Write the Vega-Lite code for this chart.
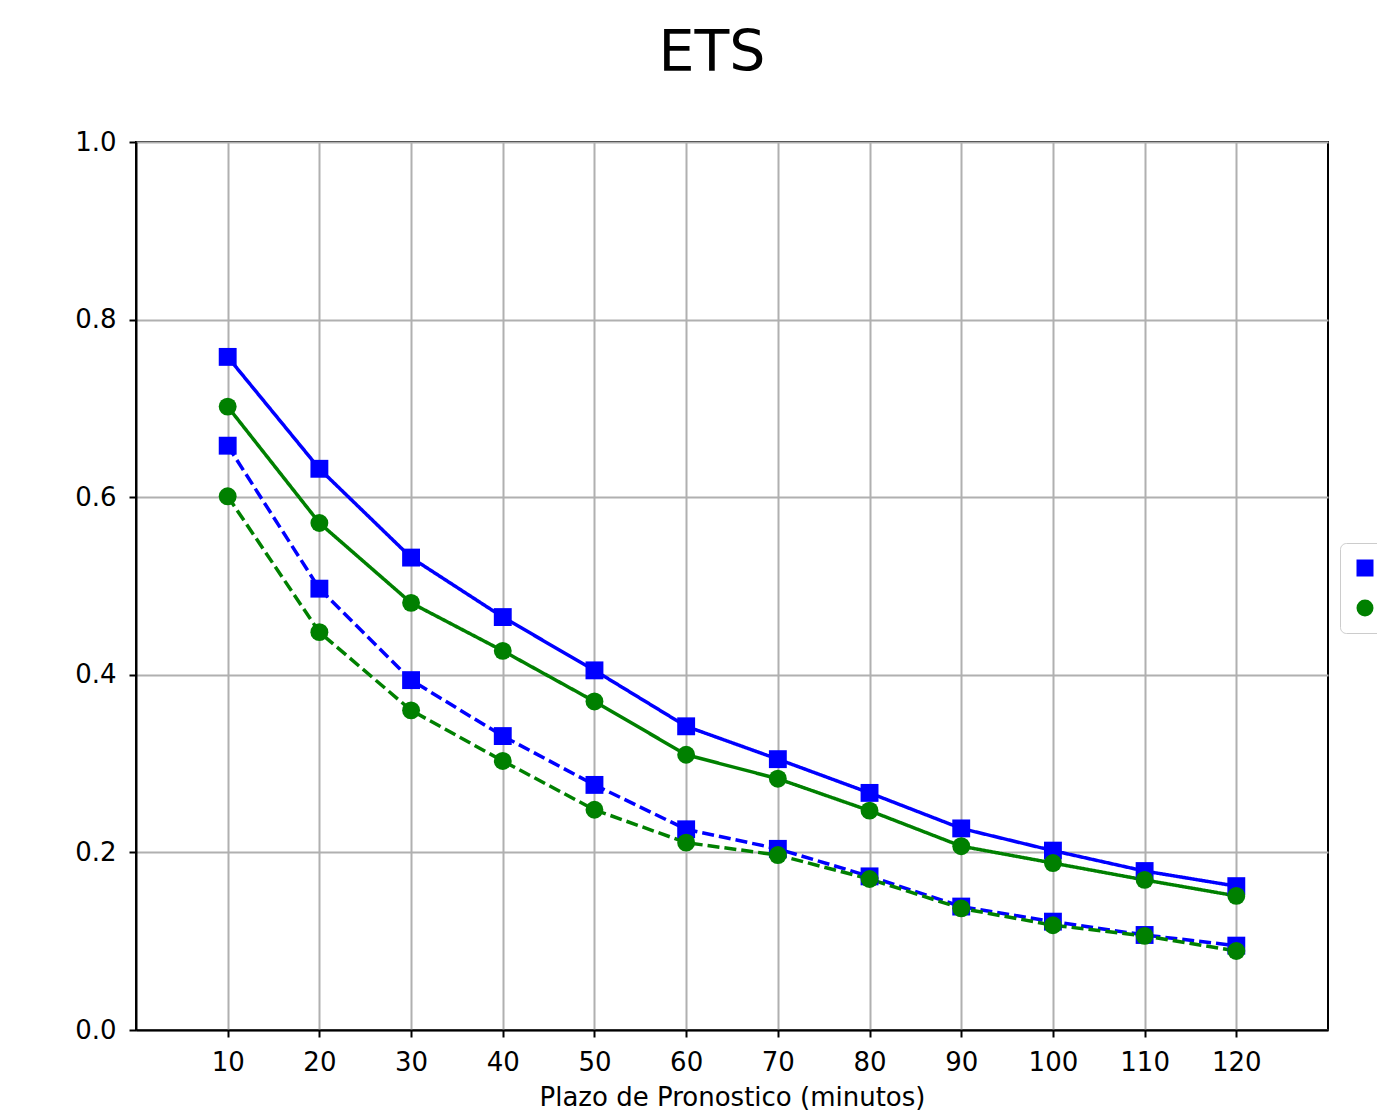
{
  "$schema": "https://vega.github.io/schema/vega-lite/v6.json",
  "width": 1192,
  "height": 888,
  "autosize": "none",
  "padding": {"left": 136, "top": 142, "right": 60, "bottom": 88},
  "background": "white",
  "config": {
    "font": "DejaVu Sans",
    "view": {"stroke": "black", "strokeWidth": 2}
  },
  "title": {
    "text": "ETS",
    "fontSize": 57,
    "fontWeight": "normal",
    "font": "DejaVu Sans",
    "color": "black",
    "anchor": "middle",
    "dx": -20,
    "offset": 46
  },
  "data": {
    "values": [
      {"plazo": 10, "valor": 0.758, "metrica": "RMSE", "tipo": "solido"},
      {"plazo": 20, "valor": 0.632, "metrica": "RMSE", "tipo": "solido"},
      {"plazo": 30, "valor": 0.532, "metrica": "RMSE", "tipo": "solido"},
      {"plazo": 40, "valor": 0.465, "metrica": "RMSE", "tipo": "solido"},
      {"plazo": 50, "valor": 0.405, "metrica": "RMSE", "tipo": "solido"},
      {"plazo": 60, "valor": 0.342, "metrica": "RMSE", "tipo": "solido"},
      {"plazo": 70, "valor": 0.305, "metrica": "RMSE", "tipo": "solido"},
      {"plazo": 80, "valor": 0.267, "metrica": "RMSE", "tipo": "solido"},
      {"plazo": 90, "valor": 0.227, "metrica": "RMSE", "tipo": "solido"},
      {"plazo": 100, "valor": 0.202, "metrica": "RMSE", "tipo": "solido"},
      {"plazo": 110, "valor": 0.179, "metrica": "RMSE", "tipo": "solido"},
      {"plazo": 120, "valor": 0.162, "metrica": "RMSE", "tipo": "solido"},
      {"plazo": 10, "valor": 0.702, "metrica": "MAE", "tipo": "solido"},
      {"plazo": 20, "valor": 0.571, "metrica": "MAE", "tipo": "solido"},
      {"plazo": 30, "valor": 0.481, "metrica": "MAE", "tipo": "solido"},
      {"plazo": 40, "valor": 0.427, "metrica": "MAE", "tipo": "solido"},
      {"plazo": 50, "valor": 0.370, "metrica": "MAE", "tipo": "solido"},
      {"plazo": 60, "valor": 0.310, "metrica": "MAE", "tipo": "solido"},
      {"plazo": 70, "valor": 0.283, "metrica": "MAE", "tipo": "solido"},
      {"plazo": 80, "valor": 0.247, "metrica": "MAE", "tipo": "solido"},
      {"plazo": 90, "valor": 0.207, "metrica": "MAE", "tipo": "solido"},
      {"plazo": 100, "valor": 0.188, "metrica": "MAE", "tipo": "solido"},
      {"plazo": 110, "valor": 0.169, "metrica": "MAE", "tipo": "solido"},
      {"plazo": 120, "valor": 0.151, "metrica": "MAE", "tipo": "solido"},
      {"plazo": 10, "valor": 0.658, "metrica": "RMSE", "tipo": "discontinuo"},
      {"plazo": 20, "valor": 0.497, "metrica": "RMSE", "tipo": "discontinuo"},
      {"plazo": 30, "valor": 0.394, "metrica": "RMSE", "tipo": "discontinuo"},
      {"plazo": 40, "valor": 0.331, "metrica": "RMSE", "tipo": "discontinuo"},
      {"plazo": 50, "valor": 0.276, "metrica": "RMSE", "tipo": "discontinuo"},
      {"plazo": 60, "valor": 0.226, "metrica": "RMSE", "tipo": "discontinuo"},
      {"plazo": 70, "valor": 0.204, "metrica": "RMSE", "tipo": "discontinuo"},
      {"plazo": 80, "valor": 0.173, "metrica": "RMSE", "tipo": "discontinuo"},
      {"plazo": 90, "valor": 0.139, "metrica": "RMSE", "tipo": "discontinuo"},
      {"plazo": 100, "valor": 0.122, "metrica": "RMSE", "tipo": "discontinuo"},
      {"plazo": 110, "valor": 0.107, "metrica": "RMSE", "tipo": "discontinuo"},
      {"plazo": 120, "valor": 0.095, "metrica": "RMSE", "tipo": "discontinuo"},
      {"plazo": 10, "valor": 0.601, "metrica": "MAE", "tipo": "discontinuo"},
      {"plazo": 20, "valor": 0.448, "metrica": "MAE", "tipo": "discontinuo"},
      {"plazo": 30, "valor": 0.360, "metrica": "MAE", "tipo": "discontinuo"},
      {"plazo": 40, "valor": 0.303, "metrica": "MAE", "tipo": "discontinuo"},
      {"plazo": 50, "valor": 0.248, "metrica": "MAE", "tipo": "discontinuo"},
      {"plazo": 60, "valor": 0.211, "metrica": "MAE", "tipo": "discontinuo"},
      {"plazo": 70, "valor": 0.197, "metrica": "MAE", "tipo": "discontinuo"},
      {"plazo": 80, "valor": 0.170, "metrica": "MAE", "tipo": "discontinuo"},
      {"plazo": 90, "valor": 0.137, "metrica": "MAE", "tipo": "discontinuo"},
      {"plazo": 100, "valor": 0.118, "metrica": "MAE", "tipo": "discontinuo"},
      {"plazo": 110, "valor": 0.106, "metrica": "MAE", "tipo": "discontinuo"},
      {"plazo": 120, "valor": 0.089, "metrica": "MAE", "tipo": "discontinuo"}
    ]
  },
  "encoding": {
    "x": {
      "field": "plazo",
      "type": "quantitative",
      "scale": {"domain": [0, 130], "nice": false, "zero": false},
      "axis": {
        "title": "Plazo de Pronostico (minutos)",
        "values": [10, 20, 30, 40, 50, 60, 70, 80, 90, 100, 110, 120],
        "labelFontSize": 26,
        "titleFontSize": 26,
        "titleFontWeight": "normal",
        "titleColor": "black",
        "labelColor": "black",
        "labelPadding": 12,
        "titlePadding": 9,
        "tickColor": "black",
        "tickSize": 7,
        "tickWidth": 2,
        "domainColor": "black",
        "domainWidth": 2,
        "grid": true,
        "gridColor": "#b0b0b0",
        "gridWidth": 2
      }
    },
    "y": {
      "field": "valor",
      "type": "quantitative",
      "scale": {"domain": [0, 1], "nice": false},
      "axis": {
        "title": null,
        "values": [0, 0.2, 0.4, 0.6, 0.8, 1.0],
        "format": ".1f",
        "labelFontSize": 26,
        "labelColor": "black",
        "labelPadding": 13,
        "tickColor": "black",
        "tickSize": 7,
        "tickWidth": 2,
        "domainColor": "black",
        "domainWidth": 2,
        "grid": true,
        "gridColor": "#b0b0b0",
        "gridWidth": 2
      }
    },
    "color": {
      "field": "metrica",
      "type": "nominal",
      "scale": {"domain": ["RMSE", "MAE"], "range": ["#0000ff", "#008000"]},
      "legend": {
        "orient": "none",
        "legendX": 1204,
        "legendY": 401,
        "title": null,
        "strokeColor": "#cccccc",
        "fillColor": "white",
        "padding": 12,
        "cornerRadius": 6,
        "symbolSize": 289,
        "symbolStrokeWidth": 0,
        "labelFontSize": 26,
        "labelColor": "black",
        "labelOffset": 14,
        "rowPadding": 14
      }
    },
    "shape": {
      "field": "metrica",
      "type": "nominal",
      "scale": {"domain": ["RMSE", "MAE"], "range": ["square", "circle"]},
      "legend": null
    }
  },
  "layer": [
    {
      "mark": {"type": "line", "strokeWidth": 3.5},
      "encoding": {
        "detail": {"field": "tipo", "type": "nominal"},
        "strokeDash": {
          "field": "tipo",
          "type": "nominal",
          "scale": {"domain": ["solido", "discontinuo"], "range": [[1, 0], [12, 5]]},
          "legend": null
        }
      }
    },
    {
      "mark": {"type": "point", "filled": true, "opacity": 1, "size": 320}
    }
  ]
}
